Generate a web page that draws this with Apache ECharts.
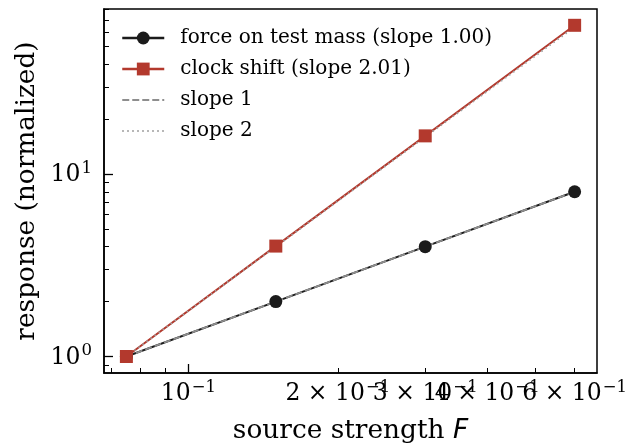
<!DOCTYPE html>
<html><head><meta charset="utf-8">
<script src="https://cdn.jsdelivr.net/npm/echarts@6/dist/echarts.min.js"></script>
<style>html,body{margin:0;padding:0;background:#fff}#c{width:628px;height:444px}</style>
</head><body><div id="c"></div>
<script>
const sourceStrength = [0.075, 0.15, 0.3, 0.6];
const forceResponse = [1.0, 2.0, 4.0, 8.0];
const clockResponse = [1.0, 4.03, 16.2, 65.4];
const slope1Ref = [1, 2, 4, 8];
const slope2Ref = [1, 4, 16, 64];
const seriesNames = ['force on test mass (slope 1.00)', 'clock shift (slope 2.01)', 'slope 1', 'slope 2'];
const xMajorTicks = [0.1];
const xMinorTicks = [0.07, 0.08, 0.09, 0.2, 0.3, 0.4, 0.5, 0.6];
const xTickValues = [0.1, 0.2, 0.3, 0.4, 0.6];
const xTickMantissas = ['', '2', '3', '4', '6'];
const xTickExponents = ['−1', '−1', '−1', '−1', '−1'];
const yMajorTicks = [1, 10];
const yMinorTicks = [0.9, 2, 3, 4, 5, 6, 7, 8, 9, 20, 30, 40, 50, 60, 70, 80];
const yTickValues = [1, 10];
const yTickExponents = ['0', '1'];
const xRange = [0.0676, 0.6656];
const yRange = [0.812, 80.35];

const FONT = 'DejaVu Serif';
const pairs = (xs, ys) => xs.map((x, i) => [x, ys[i]]);
const findIdx = (arr, v) => arr.findIndex(t => Math.abs(t - v) / t < 1e-6);
const rich = {
  m: { fontFamily: FONT, fontSize: 23.5, color: '#000', lineHeight: 26, verticalAlign: 'bottom' },
  s: { fontFamily: FONT, fontSize: 16.5, color: '#000', lineHeight: 26, verticalAlign: 'bottom', padding: [0, 0, 10, 1] }
};
const xLabelFmt = v => { const i = findIdx(xTickValues, v); if (i < 0) return ''; const m = xTickMantissas[i]; return '{m|' + (m ? m + ' × 10' : '10') + '}{s|' + xTickExponents[i] + '}'; };
// split labels across two coincident axes so none is auto-hidden for overlapping
const xLabelsA = xTickValues.filter((v, i) => i % 2 === 0);
const xLabelsB = xTickValues.filter((v, i) => i % 2 === 1);
const labelCommon = { show: true, margin: 7, rich, showMaxLabel: true, showMinLabel: true, hideOverlap: false, interval: 0, formatter: xLabelFmt };

const chart = echarts.init(document.getElementById('c'), null, { renderer: 'canvas' });
chart.setOption({
  animation: false,
  backgroundColor: '#fff',
  grid: { left: 104, right: 31, top: 9, bottom: 71, show: true, borderColor: '#000', borderWidth: 1.5, backgroundColor: 'transparent', outerBoundsMode: 'none', containLabel: false },
  legend: {
    left: 121, top: 28, orient: 'vertical', padding: 0, itemGap: 11, itemWidth: 42, itemHeight: 16,
    textStyle: { fontFamily: FONT, fontSize: 20, color: '#000', padding: [0, 0, 0, 11], lineHeight: 20 },
    data: [
      { name: seriesNames[0], lineStyle: { width: 2.5 } },
      { name: seriesNames[1], lineStyle: { width: 2.5 } },
      { name: seriesNames[2], itemStyle: { opacity: 0 } },
      { name: seriesNames[3], itemStyle: { opacity: 0 } }
    ]
  },
  xAxis: [
    {
      type: 'log', min: xRange[0], max: xRange[1],
      name: '{n|source strength }{i|F}', nameLocation: 'middle', nameGap: 45,
      nameTextStyle: { rich: { n: { fontFamily: FONT, fontSize: 26.4, color: '#000' }, i: { fontFamily: 'DejaVu Sans', fontStyle: 'italic', fontSize: 26.4, color: '#000' } } },
      axisLine: { show: true, lineStyle: { color: '#000', width: 1.5 } },
      axisTick: { show: true, inside: true, length: 9, lineStyle: { color: '#000', width: 1.3 }, customValues: xMajorTicks },
      axisLabel: Object.assign({ customValues: xLabelsA }, labelCommon),
      splitLine: { show: false }, minorTick: { show: false }
    },
    {
      type: 'log', min: xRange[0], max: xRange[1], position: 'bottom',
      axisLine: { show: false },
      axisTick: { show: true, inside: true, length: 5, lineStyle: { color: '#000', width: 1 }, customValues: xMinorTicks },
      axisLabel: Object.assign({ customValues: xLabelsB }, labelCommon),
      splitLine: { show: false }
    }
  ],
  yAxis: [
    {
      type: 'log', min: yRange[0], max: yRange[1],
      name: 'response (normalized)', nameLocation: 'middle', nameGap: 63, nameRotate: 90,
      nameTextStyle: { fontFamily: FONT, fontSize: 26.4, color: '#000' },
      axisLine: { show: true, lineStyle: { color: '#000', width: 1.5 } },
      axisTick: { show: true, inside: true, length: 9, lineStyle: { color: '#000', width: 1.3 }, customValues: yMajorTicks },
      axisLabel: {
        show: true, margin: 12, customValues: yTickValues, rich, showMaxLabel: true, showMinLabel: true,
        formatter: v => { const i = findIdx(yTickValues, v); if (i < 0) return ''; return '{m|10}{s|' + yTickExponents[i] + '}'; }
      },
      splitLine: { show: false }
    },
    {
      type: 'log', min: yRange[0], max: yRange[1], position: 'left',
      axisLine: { show: false },
      axisTick: { show: true, inside: true, length: 5, lineStyle: { color: '#000', width: 1 }, customValues: yMinorTicks },
      axisLabel: { show: false }, splitLine: { show: false }
    }
  ],
  series: [
    { name: seriesNames[0], type: 'line', xAxisIndex: 0, yAxisIndex: 0, data: pairs(sourceStrength, forceResponse),
      symbol: 'circle', symbolSize: 13, lineStyle: { color: '#1b1b1b', width: 2 }, itemStyle: { color: '#1b1b1b' } },
    { name: seriesNames[1], type: 'line', xAxisIndex: 0, yAxisIndex: 0, data: pairs(sourceStrength, clockResponse),
      symbol: 'rect', symbolSize: 13, lineStyle: { color: '#b3392d', width: 2 }, itemStyle: { color: '#b3392d' } },
    { name: seriesNames[2], type: 'line', xAxisIndex: 0, yAxisIndex: 0, data: pairs(sourceStrength, slope1Ref),
      symbol: 'none', lineStyle: { color: '#8e8e8e', width: 1.8, type: [7, 3] }, itemStyle: { color: '#8e8e8e' } },
    { name: seriesNames[3], type: 'line', xAxisIndex: 0, yAxisIndex: 0, data: pairs(sourceStrength, slope2Ref),
      symbol: 'none', lineStyle: { color: '#a0a0a0', width: 1.8, type: [1.5, 3.5] }, itemStyle: { color: '#a0a0a0' } }
  ]
});
</script></body></html>
